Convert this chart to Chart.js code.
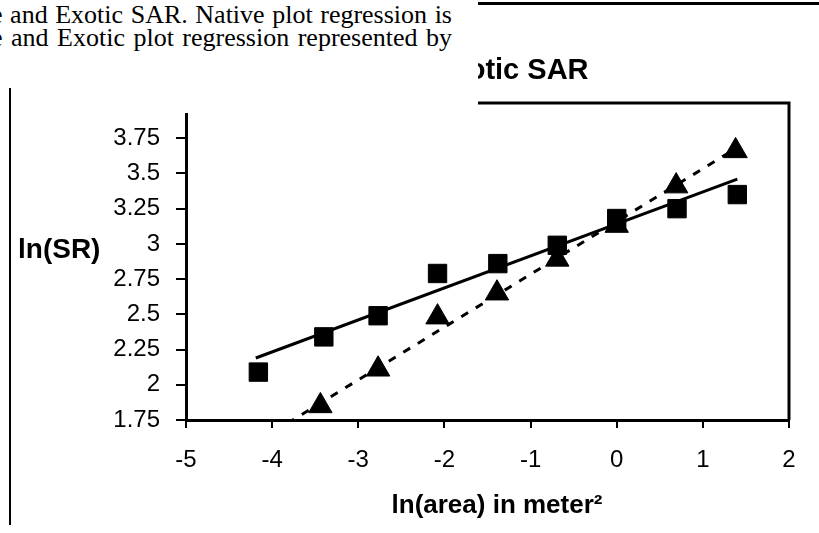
<!DOCTYPE html>
<html>
<head>
<meta charset="utf-8">
<script src="https://cdn.jsdelivr.net/npm/chart.js@4.4.0/dist/chart.umd.min.js"></script>
<style>
    html, body { margin: 0; padding: 0; background: #fff; overflow: hidden; }
    #page { position: relative; width: 819px; height: 533px; }
    #graphique { position: absolute; left: 0; top: 0; }
    #cache { position: absolute; left: 0; top: 0; width: 478px; height: 113px; background: #fff; }
    #legende { position: absolute; left: -9px; top: 3px; width: 461px; color: #000;
               font: 26px "Liberation Serif", "Times New Roman", serif; line-height: 23px; }
    #legende div { text-align: justify; text-align-last: justify; }
    #trait-haut { position: absolute; left: 478px; top: 2px; width: 341px; height: 3px; background: #000; }
    #trait-gauche { position: absolute; left: 9px; top: 88px; width: 2px; height: 437px; background: #000; }
</style>
</head>
<body>
<div id="page">
    <canvas id="graphique" width="819" height="533"></canvas>
    <div id="cache"></div>
    <div id="legende">
        <div>e and Exotic SAR. Native plot regression is</div>
        <div>e and Exotic plot regression represented by</div>
    </div>
    <div id="trait-haut"></div>
    <div id="trait-gauche"></div>
</div>
<script>
// Données
const titre = "Native and Exotic SAR";
const titreX = "ln(area) in meter\u00B2";
const titreY = "ln(SR)";

const xTicks = [-5, -4, -3, -2, -1, 0, 1, 2];
const yTicks = [1.75, 2, 2.25, 2.5, 2.75, 3, 3.25, 3.5, 3.75];

// Native : carrés
const xNative = [-4.16, -3.4, -2.77, -2.08, -1.38, -0.69, 0, 0.7, 1.4];
const yNative = [2.09, 2.34, 2.49, 2.79, 2.86, 2.99, 3.18, 3.25, 3.35];
// Exotic : triangles
const xExotic = [-3.44, -2.77, -2.08, -1.39, -0.69, 0, 0.69, 1.38];
const yExotic = [1.85, 2.11, 2.48, 2.65, 2.89, 3.13, 3.41, 3.66];

// Droites de régression (extrémités lues)
const xNativeFit = [-4.19, 1.4];
const yNativeFit = [2.19, 3.46];
const xExoticFit = [-4.16, 1.39];
const yExoticFit = [1.6, 3.68];

const police = '"Liberation Sans", Arial, sans-serif';

function points(xs, ys) {
    return xs.map((x, i) => ({ x: x, y: ys[i] }));
}

// Cadre du haut et de droite
const cadre = {
    id: 'cadre',
    beforeDatasetsDraw(chart) {
        const { ctx, chartArea: a } = chart;
        ctx.save();
        ctx.strokeStyle = '#000';
        ctx.lineWidth = 3;
        ctx.beginPath();
        ctx.moveTo(a.left, a.top);
        ctx.lineTo(a.right, a.top);
        ctx.lineTo(a.right, a.bottom);
        ctx.stroke();
        ctx.restore();
    }
};

// Titre, titre de l'axe X et titre de l'axe Y (horizontal)
const textes = {
    id: 'textes',
    afterDraw(chart) {
        const ctx = chart.ctx;
        ctx.save();
        ctx.fillStyle = '#000';
        ctx.font = 'bold 29px ' + police;
        ctx.textAlign = 'center';
        ctx.textBaseline = 'alphabetic';
        ctx.fillText(titre, 433, 79);
        ctx.font = 'bold 26px ' + police;
        ctx.textBaseline = 'middle';
        ctx.fillText(titreX, 497, 506);
        ctx.font = 'bold 28px ' + police;
        ctx.textAlign = 'left';
        ctx.fillText(titreY, 18, 250);
        ctx.restore();
    }
};

const ctx = document.getElementById("graphique").getContext("2d");
new Chart(ctx, {
    type: "scatter",
    data: {
        datasets: [
            {
                label: "Native",
                data: points(xNative, yNative),
                pointStyle: "rect",
                pointRadius: 13,
                pointBackgroundColor: "#000",
                pointBorderColor: "#000",
                pointBorderWidth: 1
            },
            {
                label: "Exotic",
                data: points(xExotic, yExotic),
                pointStyle: "triangle",
                pointRadius: 13.5,
                pointBackgroundColor: "#000",
                pointBorderColor: "#000",
                pointBorderWidth: 1
            },
            {
                label: "Native fit",
                data: points(xNativeFit, yNativeFit),
                showLine: true,
                borderColor: "#000",
                borderWidth: 3,
                pointRadius: 0,
                pointHoverRadius: 0,
                clip: 0
            },
            {
                label: "Exotic fit",
                data: points(xExoticFit, yExoticFit),
                showLine: true,
                borderColor: "#000",
                borderWidth: 3,
                borderDash: [8, 9],
                pointRadius: 0,
                pointHoverRadius: 0,
                clip: 0
            }
        ]
    },
    options: {
        responsive: false,
        animation: false,
        devicePixelRatio: 1,
        layout: { padding: { top: 103, right: 30, left: 0, bottom: 0 } },
        plugins: {
            legend: { display: false },
            tooltip: { enabled: false },
            title: { display: false }
        },
        scales: {
            x: {
                type: "linear",
                min: -5,
                max: 2,
                afterBuildTicks: axis => { axis.ticks = xTicks.map(v => ({ value: v })); },
                afterFit: axis => { axis.height = 113; },
                ticks: {
                    color: "#000",
                    font: { family: police, size: 24 },
                    padding: 18,
                    maxRotation: 0,
                    callback: v => String(v)
                },
                grid: { display: true, drawOnChartArea: false, drawTicks: true, tickLength: 8, color: "#000", lineWidth: 2 },
                border: { display: true, color: "#000", width: 3 }
            },
            y: {
                type: "linear",
                min: 1.75,
                max: 4,
                afterBuildTicks: axis => { axis.ticks = yTicks.map(v => ({ value: v })); },
                afterFit: axis => { axis.width = 186; },
                ticks: {
                    color: "#000",
                    font: { family: police, size: 24 },
                    padding: 16,
                    callback: v => String(v)
                },
                grid: { display: true, drawOnChartArea: false, drawTicks: true, tickLength: 10, color: "#000", lineWidth: 2 },
                border: { display: true, color: "#000", width: 3 }
            }
        }
    },
    plugins: [cadre, textes]
});
</script>
</body>
</html>
